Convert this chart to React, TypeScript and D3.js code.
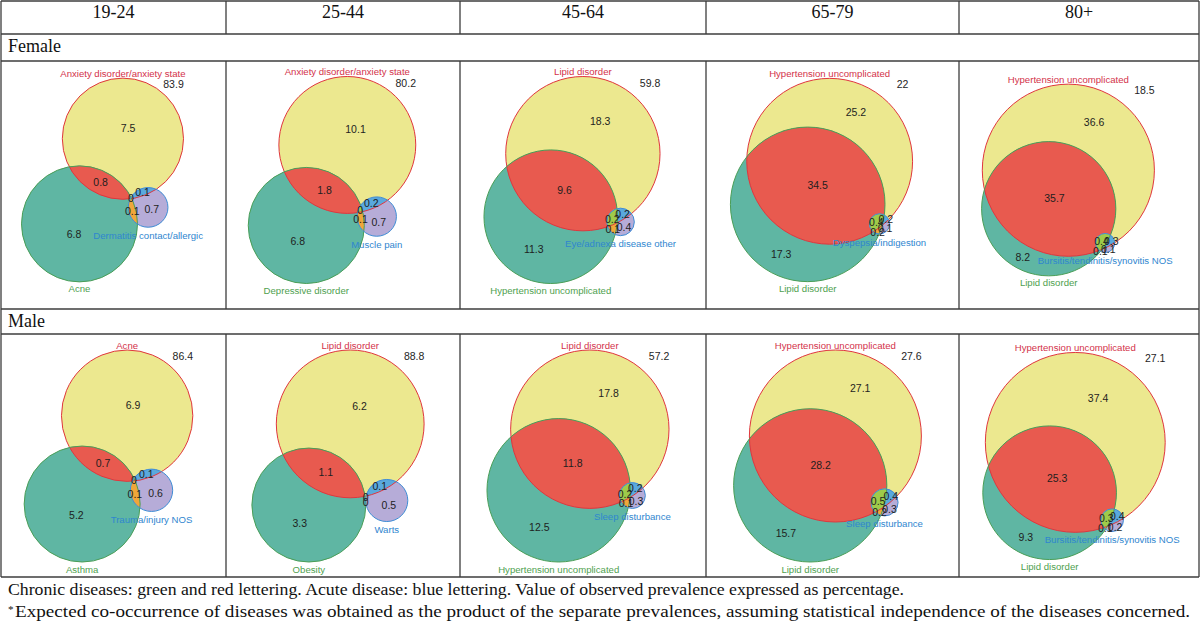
import React from 'react';
import * as d3 from 'd3';

// ---------- DATA ----------
const ageGroups = ['19-24', '25-44', '45-64', '65-79', '80+'];
const sexLabels = ['Female', 'Male'];

// set names per panel: [A (red lettering, top), B (green lettering), C (blue lettering, acute)]
const femaleSetNames = [
  ['Anxiety disorder/anxiety state', 'Acne', 'Dermatitis contact/allergic'],
  ['Anxiety disorder/anxiety state', 'Depressive disorder', 'Muscle pain'],
  ['Lipid disorder', 'Hypertension uncomplicated', 'Eye/adnexa disease other'],
  ['Hypertension uncomplicated', 'Lipid disorder', 'Dyspepsia/indigestion'],
  ['Hypertension uncomplicated', 'Lipid disorder', 'Bursitis/tendinitis/synovitis NOS'],
];
const maleSetNames = [
  ['Acne', 'Asthma', 'Trauma/injury NOS'],
  ['Lipid disorder', 'Obesity', 'Warts'],
  ['Lipid disorder', 'Hypertension uncomplicated', 'Sleep disturbance'],
  ['Hypertension uncomplicated', 'Lipid disorder', 'Sleep disturbance'],
  ['Hypertension uncomplicated', 'Lipid disorder', 'Bursitis/tendinitis/synovitis NOS'],
];

// region prevalences: [A only, B only, C only, A∩B, A∩C, B∩C, A∩B∩C]
const femaleRegions = [
  [7.5, 6.8, 0.7, 0.8, 0.1, 0.1, 0],
  [10.1, 6.8, 0.7, 1.8, 0.2, 0.1, 0],
  [18.3, 11.3, 0.4, 9.6, 0.2, 0.1, 0.2],
  [25.2, 17.3, 0.1, 34.5, 0.2, 0.2, 0.4],
  [36.6, 8.2, 0.1, 35.7, 0.3, 0.1, 0.4],
];
const maleRegions = [
  [6.9, 5.2, 0.6, 0.7, 0.1, 0.1, 0],
  [6.2, 3.3, 0.5, 1.1, 0.1, 0, 0],
  [17.8, 12.5, 0.3, 11.8, 0.2, 0.1, 0.2],
  [27.1, 15.7, 0.3, 28.2, 0.4, 0.2, 0.5],
  [37.4, 9.3, 0.2, 25.3, 0.4, 0.1, 0.3],
];
// prevalence with none of the three diseases
const femaleNone = [83.9, 80.2, 59.8, 22, 18.5];
const maleNone = [86.4, 88.8, 57.2, 27.6, 27.1];

const footLine1 = 'Chronic diseases: green and red lettering. Acute disease: blue lettering. Value of observed prevalence expressed as percentage.';
const footLine2 = 'Expected co-occurrence of diseases was obtained as the product of the separate prevalences, assuming statistical independence of the diseases concerned.';

// ---------- LAYOUT / STYLE ----------
const colEdges = [1, 226, 460, 706, 959, 1199];
const Y_TOP = 1, Y_HEAD = 34, Y_FLAB = 61, Y_FEND = 309, Y_MLAB = 334, Y_MEND = 577;
const LINE = '#3c3c3c';
const SERIF = '"Liberation Serif", "Times New Roman", serif';
const SANS = '"Liberation Sans", Arial, Helvetica, sans-serif';

const COL = {
  a: '#ece88f', b: '#5fb6a3', ab: '#e85a4f', c: '#b6acd8', ac: '#5aa9dd', bc: '#f0a63a', abc: '#9fcb4a',
  strokeA: '#e0363e', strokeB: '#4a9e57', strokeC: '#3f8dd5',
  textA: '#d3324a', textB: '#4f9f4f', textC: '#2f86cf',
};

type Circ = { x: number; y: number; r: number };

function lens(r1: number, r2: number, d: number) {
  if (d >= r1 + r2) return 0;
  if (d <= Math.abs(r1 - r2)) return Math.PI * Math.min(r1, r2) ** 2;
  const a = r1 * r1 * Math.acos((d * d + r1 * r1 - r2 * r2) / (2 * d * r1));
  const b = r2 * r2 * Math.acos((d * d + r2 * r2 - r1 * r1) / (2 * d * r2));
  const c = 0.5 * Math.sqrt((-d + r1 + r2) * (d + r1 - r2) * (d - r1 + r2) * (d + r1 + r2));
  return a + b - c;
}
function distFor(r1: number, r2: number, ov: number) {
  if (ov <= 0) return r1 + r2;
  let lo = Math.abs(r1 - r2), hi = r1 + r2;
  for (let i = 0; i < 60; i++) {
    const m = (lo + hi) / 2;
    if (lens(r1, r2, m) > ov) lo = m; else hi = m;
  }
  return (lo + hi) / 2;
}

function vennLayout(v: number[]): Circ[] {
  const [a, b, c, ab, ac, bc, abc] = v;
  const SA = a + ab + ac + abc, SB = b + ab + bc + abc, SC = c + ac + bc + abc;
  const rA = Math.sqrt(SA / Math.PI), rB = Math.sqrt(SB / Math.PI), rC = Math.sqrt(SC / Math.PI);
  const dAB = distFor(rA, rB, ab + abc);
  const dAC = distFor(rA, rC, ac + abc);
  const dBC = distFor(rB, rC, bc + abc);
  const th = (117 * Math.PI) / 180;
  const u = [Math.cos(th), Math.sin(th)];
  const p = [u[1], -u[0]];
  const xx = (dAC * dAC - dBC * dBC + dAB * dAB) / (2 * dAB);
  const yy = Math.sqrt(Math.max(0, dAC * dAC - xx * xx));
  return [
    { x: 0, y: 0, r: rA },
    { x: dAB * u[0], y: dAB * u[1], r: rB },
    { x: xx * u[0] + yy * p[0], y: xx * u[1] + yy * p[1], r: rC },
  ];
}

function fitCircles(cs: Circ[], cx: number, cy: number, bw: number, bh: number): Circ[] {
  const x0 = d3.min(cs, (c) => c.x - c.r)!, x1 = d3.max(cs, (c) => c.x + c.r)!;
  const y0 = d3.min(cs, (c) => c.y - c.r)!, y1 = d3.max(cs, (c) => c.y + c.r)!;
  const s = Math.min(bw / (x1 - x0), bh / (y1 - y0));
  const mx = (x0 + x1) / 2, my = (y0 + y1) / 2;
  const sx = d3.scaleLinear().domain([mx, mx + 1]).range([cx, cx + s]);
  const sy = d3.scaleLinear().domain([my, my + 1]).range([cy, cy + s]);
  return cs.map((c) => ({ x: sx(c.x), y: sy(c.y), r: c.r * s }));
}

function pole(cs: Circ[], inside: boolean[]): [number, number] {
  const f = (x: number, y: number) => {
    let m = Infinity;
    cs.forEach((c, i) => {
      const d = Math.hypot(x - c.x, y - c.y);
      const v = inside[i] ? c.r - d : d - c.r;
      if (v < m) m = v;
    });
    return m;
  };
  const ins = cs.filter((_, i) => inside[i]);
  const sm = ins.reduce((p, q) => (p.r < q.r ? p : q));
  let cx = sm.x, cy = sm.y, span = sm.r * 1.1;
  let best = f(cx, cy), bx = cx, by = cy;
  for (let it = 0; it < 6; it++) {
    const n = 30;
    for (let i = 0; i <= n; i++)
      for (let j = 0; j <= n; j++) {
        const x = cx - span + (2 * span * i) / n, y = cy - span + (2 * span * j) / n;
        const val = f(x, y);
        if (val > best) { best = val; bx = x; by = y; }
      }
    cx = bx; cy = by; span /= 3;
  }
  return [bx, by];
}

function Panel({ id, names, values, none, cellX0, cellX1, top, female }: any) {
  const cellW = cellX1 - cellX0;
  const cx = (cellX0 + cellX1) / 2 + (female ? -11 : -5);
  const cy = top + (female ? 119 : 122);
  const bw = cellW * (female ? 0.72 : 0.76);
  const bh = female ? 207 : 212;
  const cs = fitCircles(vennLayout(values), cx, cy, bw, bh);
  const [A, B, C] = cs;
  const masks: [boolean[], number][] = [
    [[true, false, false], values[0]],
    [[false, true, false], values[1]],
    [[false, false, true], values[2]],
    [[true, true, false], values[3]],
    [[true, false, true], values[4]],
    [[false, true, true], values[5]],
    [[true, true, true], values[6]],
  ];
  const labels = masks.map(([m, v]) => ({ p: pole(cs, m), v }));
  const circ = (c: Circ, props: any) => <circle cx={c.x} cy={c.y} r={c.r} {...props} />;
  return (
    <g>
      <defs>
        <clipPath id={`${id}-a`}>{circ(A, {})}</clipPath>
        <clipPath id={`${id}-b`}>{circ(B, {})}</clipPath>
      </defs>
      {circ(A, { fill: COL.a })}
      {circ(B, { fill: COL.b })}
      {circ(B, { fill: COL.ab, clipPath: `url(#${id}-a)` })}
      {circ(C, { fill: COL.c })}
      {circ(C, { fill: COL.ac, clipPath: `url(#${id}-a)` })}
      {circ(C, { fill: COL.bc, clipPath: `url(#${id}-b)` })}
      <g clipPath={`url(#${id}-a)`}>{circ(C, { fill: COL.abc, clipPath: `url(#${id}-b)` })}</g>
      {circ(A, { fill: 'none', stroke: COL.strokeA, strokeWidth: 1 })}
      {circ(B, { fill: 'none', stroke: COL.strokeB, strokeWidth: 1 })}
      {circ(C, { fill: 'none', stroke: COL.strokeC, strokeWidth: 1 })}
      <g fontFamily={SANS} fontSize={10.5} fill="#1e1e1e" textAnchor="middle" dominantBaseline="central">
        {labels.map((l, i) => (
          <text key={i} x={l.p[0]} y={l.p[1]}>{String(l.v)}</text>
        ))}
        <text x={A.x + A.r - 10} y={A.y - A.r + 6}>{String(none)}</text>
      </g>
      <g fontFamily={SANS} fontSize={9.6} textAnchor="middle" dominantBaseline="central">
        <text x={A.x} y={A.y - A.r - 5} fill={COL.textA}>{names[0]}</text>
        <text x={B.x} y={B.y + B.r + 7} fill={COL.textB}>{names[1]}</text>
        <text x={C.x} y={C.y + C.r + 8} fill={COL.textC}>{names[2]}</text>
      </g>
    </g>
  );
}

export default function App() {
  const rows = [
    { names: femaleSetNames, values: femaleRegions, none: femaleNone, top: Y_FLAB, female: true },
    { names: maleSetNames, values: maleRegions, none: maleNone, top: Y_MLAB, female: false },
  ];
  return (
    <svg width={1200} height={636} style={{ position: 'absolute', left: 0, top: 0, background: '#fff' }}>
      <rect x={0} y={0} width={1200} height={636} fill="#fff" />
      {rows.map((row, ri) =>
        ageGroups.map((g, ci) => (
          <Panel
            key={`${ri}-${ci}`}
            id={`p${ri}${ci}`}
            names={row.names[ci]}
            values={row.values[ci]}
            none={row.none[ci]}
            cellX0={colEdges[ci]}
            cellX1={colEdges[ci + 1]}
            top={row.top}
            female={row.female}
          />
        ))
      )}
      {/* table lines */}
      <g stroke={LINE} strokeWidth={1.3}>
        {[Y_TOP, Y_HEAD, Y_FLAB, Y_FEND, Y_MLAB, Y_MEND].map((y) => (
          <line key={y} x1={colEdges[0]} x2={colEdges[5]} y1={y} y2={y} />
        ))}
        <line x1={colEdges[0]} x2={colEdges[0]} y1={Y_TOP} y2={Y_MEND} />
        <line x1={colEdges[5]} x2={colEdges[5]} y1={Y_TOP} y2={Y_MEND} />
        {colEdges.slice(1, 5).map((x) => (
          <g key={x}>
            <line x1={x} x2={x} y1={Y_TOP} y2={Y_HEAD} />
            <line x1={x} x2={x} y1={Y_FLAB} y2={Y_FEND} />
            <line x1={x} x2={x} y1={Y_MLAB} y2={Y_MEND} />
          </g>
        ))}
      </g>
      <g fontFamily={SERIF} fontSize={18} fill="#111">
        {ageGroups.map((g, i) => (
          <text key={g} x={(colEdges[i] + colEdges[i + 1]) / 2} y={18} textAnchor="middle">{g}</text>
        ))}
        <text x={8} y={52}>{sexLabels[0]}</text>
        <text x={8} y={327}>{sexLabels[1]}</text>
      </g>
      <g fontFamily={SERIF} fontSize={16} fill="#111">
        <text x={8} y={595} textLength={896} lengthAdjust="spacingAndGlyphs">{footLine1}</text>
        <text x={8} y={617} fontSize={11} dy={-4}>*</text>
        <text x={15} y={617} textLength={1175} lengthAdjust="spacingAndGlyphs">{footLine2}</text>
      </g>
    </svg>
  );
}
